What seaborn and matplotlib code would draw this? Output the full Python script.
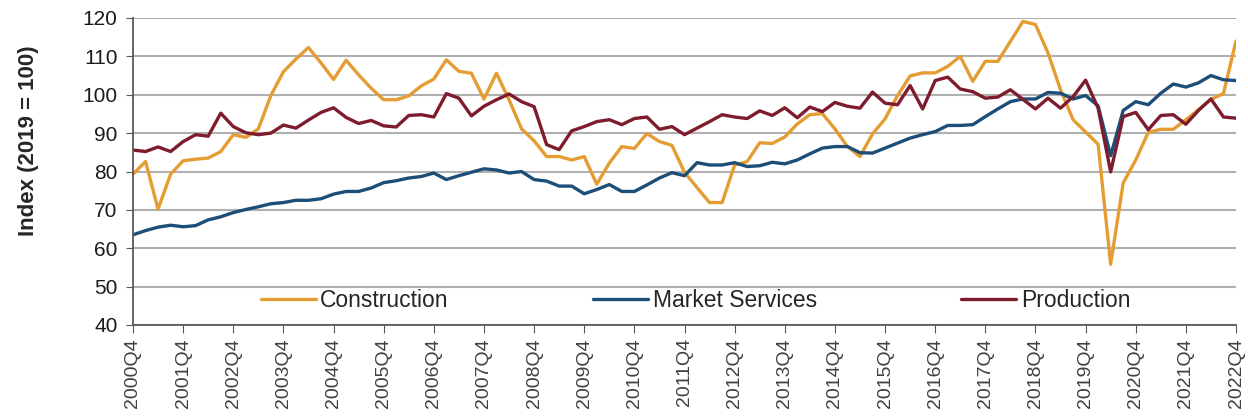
import numpy as np
import pandas as pd
import matplotlib.pyplot as plt
import seaborn as sns

# quarterly index values, 2000Q4 .. 2022Q4
construction = [79.3, 82.6, 70.2, 79.3, 82.8, 83.2, 83.5, 85.2, 89.6, 88.9,
                91.1, 99.8, 106.0, 109.3, 112.3, 108.3, 104.0, 109.0, 105.2, 101.7,
                98.7, 98.7, 99.7, 102.3, 104.1, 109.1, 106.1, 105.6, 98.9, 105.6,
                98.7, 91.1, 88.0, 83.9, 83.9, 83.0, 83.9, 76.7, 82.2, 86.5,
                86.0, 89.9, 87.8, 86.8, 79.8, 75.8, 71.9, 71.9, 81.7, 82.6,
                87.5, 87.3, 89.0, 92.4, 94.8, 95.1, 91.1, 86.5, 83.9, 89.8,
                93.7, 99.8, 104.9, 105.7, 105.7, 107.4, 110.0, 103.5, 108.7, 108.7,
                113.9, 119.1, 118.3, 110.9, 101.3, 93.5, 90.3, 87.1, 55.8, 77.0,
                83.0, 90.2, 91.0, 91.0, 93.5, 96.1, 98.8, 100.3, 114.0]

market_services = [63.5, 64.6, 65.5, 66.0, 65.6, 65.9, 67.4, 68.2, 69.3, 70.1,
                   70.8, 71.6, 71.9, 72.5, 72.5, 72.9, 74.1, 74.8, 74.8, 75.7,
                   77.1, 77.6, 78.3, 78.7, 79.6, 77.9, 78.9, 79.8, 80.7, 80.4,
                   79.6, 80.0, 77.9, 77.5, 76.2, 76.2, 74.2, 75.3, 76.6, 74.8,
                   74.8, 76.5, 78.3, 79.7, 78.9, 82.3, 81.7, 81.7, 82.3, 81.3,
                   81.5, 82.4, 82.0, 83.0, 84.6, 86.1, 86.5, 86.5, 84.9, 84.8,
                   86.1, 87.4, 88.7, 89.6, 90.4, 92.0, 92.0, 92.2, 94.3, 96.3,
                   98.2, 98.9, 98.9, 100.6, 100.4, 98.9, 99.8, 97.1, 84.1, 95.9,
                   98.2, 97.4, 100.4, 102.8, 102.0, 103.1, 105.0, 103.9, 103.7]

production = [85.6, 85.2, 86.4, 85.2, 87.8, 89.6, 89.2, 95.2, 91.7, 90.1,
              89.6, 90.0, 92.1, 91.3, 93.4, 95.4, 96.6, 94.1, 92.5, 93.3,
              91.9, 91.6, 94.6, 94.8, 94.2, 100.3, 99.1, 94.5, 97.0, 98.7,
              100.2, 98.2, 96.9, 87.0, 85.7, 90.6, 91.7, 93.0, 93.5, 92.2,
              93.8, 94.2, 91.0, 91.7, 89.6, 91.3, 93.0, 94.8, 94.2, 93.8,
              95.8, 94.6, 96.6, 94.0, 96.8, 95.6, 98.0, 97.0, 96.5, 100.7,
              97.8, 97.4, 102.4, 96.3, 103.7, 104.6, 101.5, 100.8, 99.1, 99.4,
              101.3, 98.8, 96.3, 99.1, 96.5, 99.5, 103.8, 96.5, 79.9, 94.3,
              95.4, 90.9, 94.6, 94.8, 92.3, 95.9, 98.9, 94.2, 93.9]

quarters = [f"{2000 + (i + 3) // 4}Q{(i + 3) % 4 + 1}" for i in range(len(construction))]
series_names = ["Construction", "Market Services", "Production"]
colors = ["#E59D33", "#1D4E78", "#7E1C2E"]

df = pd.DataFrame({"pos": range(len(quarters)),
                   "Construction": construction,
                   "Market Services": market_services,
                   "Production": production})
long = df.melt(id_vars="pos", var_name="series", value_name="index")

sns.set_style("white")
plt.rcParams['font.family'] = ['Liberation Sans', 'DejaVu Sans']

fig = plt.figure(figsize=(12.48, 4.16), dpi=100)
ax = fig.add_axes([133 / 1248, 1 - 325 / 416, (1236 - 133) / 1248, (325 - 18) / 416])

sns.lineplot(data=long, x="pos", y="index", hue="series", hue_order=series_names,
             palette=colors, linewidth=2.4, ax=ax)

ax.set_xlim(0, len(quarters) - 1)
ax.set_ylim(40, 120)
ax.set_yticks(range(40, 121, 10))
tick_pos = list(range(0, len(quarters), 4))
ax.set_xticks(tick_pos)
ax.set_xticklabels([quarters[i] for i in tick_pos], rotation=90, fontsize=14, color="#404040")
ax.tick_params(axis="y", labelsize=15, length=5, pad=6, color="#595959", labelcolor="#1a1a1a", left=True)
ax.tick_params(axis="x", length=6, color="#595959", bottom=True)

ax.yaxis.grid(True, color="#B0B0B0", linewidth=1.5)
ax.set_axisbelow(True)
sns.despine(ax=ax, top=True, right=True)
for s in ["left", "bottom"]:
    ax.spines[s].set_color("#595959")
    ax.spines[s].set_linewidth(1.3)

ax.set_xlabel("")
ax.set_ylabel("Index (2019 = 100)", fontsize=16, fontweight="bold", color="#262626")
ax.yaxis.set_label_coords(-0.085, 0.6)

handles, labels = ax.get_legend_handles_labels()
ax.legend(handles, labels, loc="center", bbox_to_anchor=(0.51, 0.08), ncol=3,
          frameon=False, fontsize=16.5, handlelength=2.4, handletextpad=0.2,
          columnspacing=6.3)

fig.savefig("out.png", dpi=100)
